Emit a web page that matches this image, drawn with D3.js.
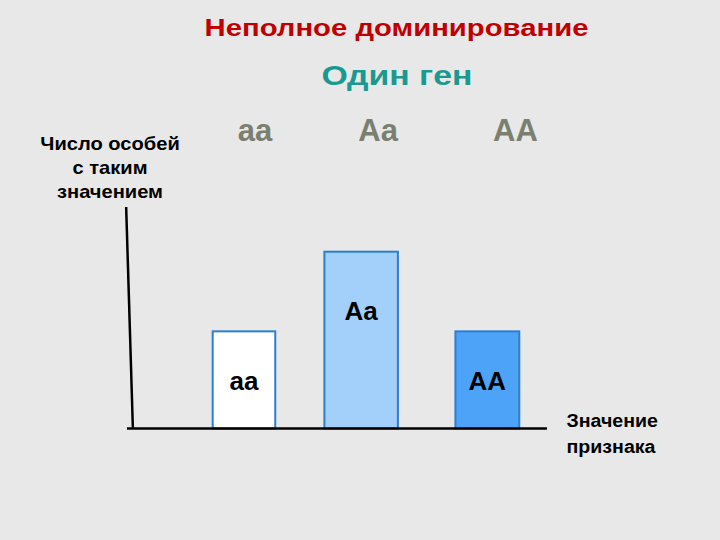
<!DOCTYPE html>
<html>
<head>
<meta charset="utf-8">
<script src="https://cdn.jsdelivr.net/npm/d3@7"></script>
<style>
  html, body { margin: 0; padding: 0; background: #e8e8e8; }
  svg { display: block; font-family: Arial, "Liberation Sans", sans-serif; }
</style>
</head>
<body>
<svg id="chart" width="720" height="540"></svg>
<script>
// genotypes and their bars (trait value range + relative number of individuals)
var genotypes = ["aa", "Aa", "AA"];
var traitStart = [20.4, 47, 78.2];
var traitEnd = [35.3, 64.5, 93.4];
var counts = [1, 1.82, 1];
var fills = ["#ffffff", "#a3cffb", "#4da3f8"];
var topLabelX = [30.5, 59.8, 92.5];

var svg = d3.select("#chart");

var x = d3.scaleLinear().domain([0, 100]).range([127, 547]);
var y = d3.scaleLinear().domain([0, 2.28]).range([428.5, 207]);

var data = genotypes.map(function(g, i) {
  return { name: g, x0: traitStart[i], x1: traitEnd[i], n: counts[i], fill: fills[i], tx: topLabelX[i] };
});

// text stretched sideways like the original slide
function wideText(sel, cx, cy, sx, anchor) {
  return sel.append("text")
    .attr("transform", "translate(" + cx + "," + cy + ") scale(" + sx + ",1)")
    .attr("text-anchor", anchor || "middle");
}

// titles
wideText(svg, 396.5, 36, 1.22)
  .attr("font-size", 24).attr("font-weight", "bold")
  .attr("fill", "#c00000")
  .text("Неполное доминирование");

wideText(svg, 397, 85, 1.23)
  .attr("font-size", 27.5).attr("font-weight", "bold")
  .attr("fill", "#1a9990")
  .text("Один ген");

// genotype row above the chart
svg.selectAll("text.top")
  .data(data)
  .enter()
  .append("text")
  .attr("class", "top")
  .attr("x", function(d) { return x(d.tx); })
  .attr("y", 141)
  .attr("text-anchor", "middle")
  .attr("font-size", 31).attr("font-weight", "bold")
  .attr("fill", "#7a8070")
  .text(function(d) { return d.name; });

// y label
var yLabel = ["Число особей", "с таким", "значением"];
yLabel.forEach(function(t, i) {
  wideText(svg, 110, 150 + i * 24, 1.15)
    .attr("font-size", 17.5).attr("font-weight", "bold")
    .attr("fill", "#000")
    .text(t);
});

// x label
var xLabel = ["Значение", "признака"];
xLabel.forEach(function(t, i) {
  wideText(svg, 566.5, 427 + i * 25.5, 1.12, "start")
    .attr("font-size", 17.5).attr("font-weight", "bold")
    .attr("fill", "#000")
    .text(t);
});

// bars
svg.selectAll("rect.bar")
  .data(data)
  .enter()
  .append("rect")
  .attr("class", "bar")
  .attr("x", function(d) { return x(d.x0); })
  .attr("y", function(d) { return y(d.n); })
  .attr("width", function(d) { return x(d.x1) - x(d.x0); })
  .attr("height", function(d) { return y(0) - y(d.n); })
  .attr("fill", function(d) { return d.fill; })
  .attr("stroke", "#2a7fd0")
  .attr("stroke-width", 2);

// labels inside bars
svg.selectAll("text.inbar")
  .data(data)
  .enter()
  .append("text")
  .attr("class", "inbar")
  .attr("x", function(d) { return (x(d.x0) + x(d.x1)) / 2; })
  .attr("y", function(d) { return d.n > 1.5 ? 319.5 : 390; })
  .attr("text-anchor", "middle")
  .attr("font-size", 26).attr("font-weight", "bold")
  .attr("fill", "#000")
  .text(function(d) { return d.name; });

// axes (hand drawn look: y axis slightly slanted)
svg.append("line")
  .attr("x1", x(0)).attr("y1", y(0))
  .attr("x2", x(100)).attr("y2", y(0))
  .attr("stroke", "#000").attr("stroke-width", 2.5);

svg.append("line")
  .attr("x1", x(-0.2)).attr("y1", y(2.28))
  .attr("x2", x(1.4)).attr("y2", y(0))
  .attr("stroke", "#000").attr("stroke-width", 2.5);
</script>
</body>
</html>
